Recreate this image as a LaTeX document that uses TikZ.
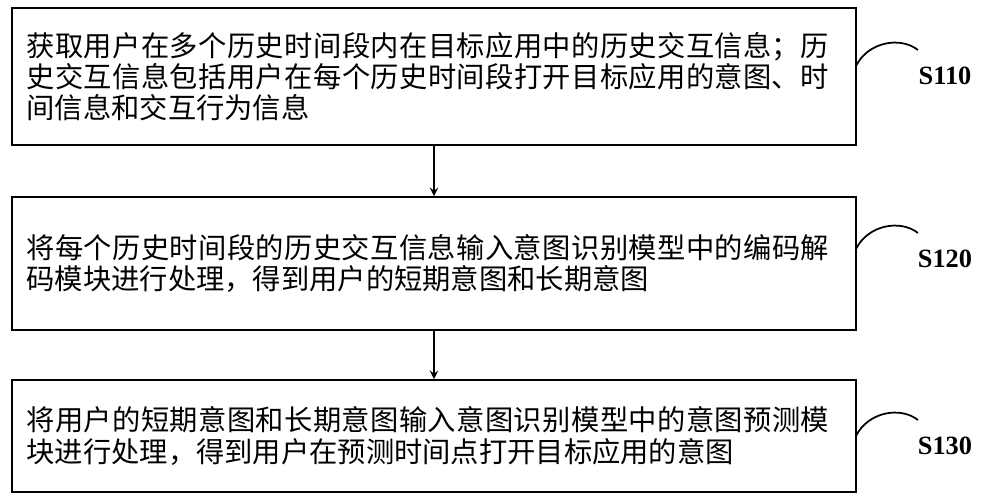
\documentclass[tikz,border=0pt]{standalone}
\usepackage{fontspec}
\setmainfont{Liberation Serif}
\newfontfamily\cjk{Noto Sans CJK SC}
\XeTeXlinebreaklocale "zh"
\XeTeXlinebreakskip=0pt plus 1pt
\usetikzlibrary{positioning,calc}
\tikzset{
  stepbox/.style={draw, line width=1.1pt, minimum width=16.88cm, text width=16.3cm,
    align=left, inner sep=0pt, font=\cjk\fontsize{16.1pt}{17.8pt}\selectfont},
  steplabel/.style={font=\fontsize{15pt}{16pt}\selectfont\bfseries},
  flow/.style={->, >=stealth, line width=1.1pt},
}
\begin{document}
\begin{tikzpicture}[x=0.02cm, y=-0.02cm]
    \useasboundingbox (0,0) rectangle (988,500);
    % steps
    \node[stepbox, minimum height=2.74cm] (s1) at (434,76.5) {获取用户在多个历史时间段内在目标应用中的历史交互信息；历史交互信息包括用户在每个历史时间段打开目标应用的意图、时间信息和交互行为信息};
    \node[stepbox, minimum height=2.66cm] (s2) at (434,263.5) {\baselineskip=18.8pt 将每个历史时间段的历史交互信息输入意图识别模型中的编码解码模块进行处理，得到用户的短期意图和长期意图};
    \node[stepbox, minimum height=2.24cm] (s3) at (434,436) {\baselineskip=26pt 将用户的短期意图和长期意图输入意图识别模型中的意图预测模块进行处理，得到用户在预测时间点打开目标应用的意图};
    \draw[flow] (s1) -- (s2);
    \draw[flow] (s2) -- (s3);
    % labels
    \node[steplabel] (l1) at (945,76) {S110};
    \node[steplabel] (l2) at (945,259) {S120};
    \node[steplabel] (l3) at (945,446) {S130};
    \draw[line width=1pt] (856,66) .. controls (868,42) and (900,36) .. (918,50);
    \draw[line width=1pt] (856,249) .. controls (868,225) and (900,219) .. (918,233);
    \draw[line width=1pt] (856,436) .. controls (868,412) and (900,406) .. (918,420);
\end{tikzpicture}
\end{document}
